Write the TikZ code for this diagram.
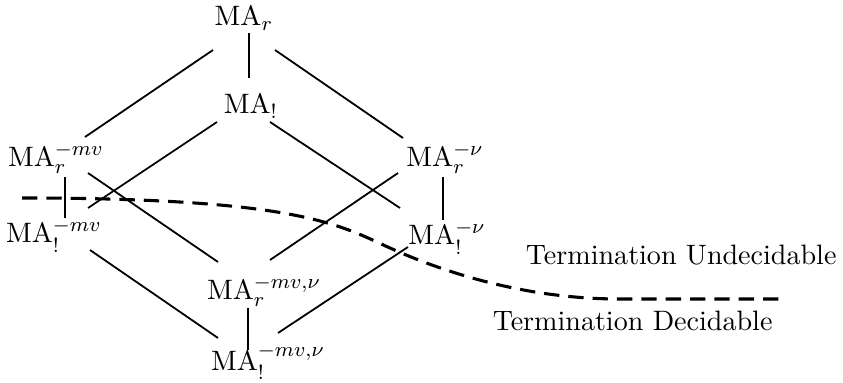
\documentclass[11pt,tikz,border=0pt]{standalone}
\usepackage{amsmath, amssymb}
\usepackage{tikz}
\usetikzlibrary{positioning, calc}
\newcommand{\MA}{\mathrm{MA}}

\begin{document}
\begin{tikzpicture}[x=0.39pt, y=-0.39pt,
        ma/.style={anchor=base, inner sep=2.5pt},
        ln/.style={line width=0.7pt},
        cut/.style={line width=1.2pt, dash pattern=on 6pt off 3.5pt},
        lbl/.style={anchor=base east, inner sep=0pt}]
        \useasboundingbox (0,0) rectangle (843,383);
        \node[ma] (r)     at (244,26)  {$\MA_r$};
        \node[ma] (e)     at (251,114) {$\MA_!$};
        \node[ma] (rmv)   at (56,167)  {$\MA_r^{-mv}$};
        \node[ma] (emv)   at (54,243)  {$\MA_!^{-mv}$};
        \node[ma] (rnu)   at (445,167) {$\MA_r^{-\nu}$};
        \node[ma] (enu)   at (447,245) {$\MA_!^{-\nu}$};
        \node[ma] (rmvnu) at (264,300) {$\MA_r^{-mv,\nu}$};
        \node[ma] (emvnu) at (268,370) {$\MA_!^{-mv,\nu}$};
        % top
        \draw[ln] ([shift={(5,7)}]r.base)     -- ([shift={(-2,-36)}]e.base);
        \draw[ln] ([shift={(-31,24)}]r.base)  -- ([shift={(29,-30)}]rmv.base);
        \draw[ln] ([shift={(31,24)}]r.base)   -- ([shift={(-42,-29)}]rnu.base);
        \draw[ln] ([shift={(-34,8)}]e.base)   -- ([shift={(34,-35)}]emv.base);
        \draw[ln] ([shift={(19,8)}]e.base)    -- ([shift={(-47,-37)}]enu.base);
        % sides
        \draw[ln] ([shift={(9,10)}]rmv.base)  -- ([shift={(11,-25)}]emv.base);
        \draw[ln] ([shift={(-2,10)}]rnu.base) -- ([shift={(-4,-25)}]enu.base);
        \draw[ln] ([shift={(32,6)}]rmv.base)  -- ([shift={(-46,-38)}]rmvnu.base);
        \draw[ln] ([shift={(-47,6)}]rnu.base) -- ([shift={(6,-40)}]rmvnu.base);
        \draw[ln] ([shift={(36,7)}]emv.base)  -- ([shift={(-50,-32)}]emvnu.base);
        \draw[ln] ([shift={(-39,2)}]enu.base) -- ([shift={(10,-37)}]emvnu.base);
        % bottom
        \draw[ln] ([shift={(-16,8)}]rmvnu.base) -- ([shift={(-20,-20)}]emvnu.base);
        % cut between the two regions
        \draw[cut] (22,198) .. controls (300,198) and (340,225.5) .. (390,248)
                            .. controls (450,275) and (530,299) .. (620,299) -- (787,299);
        \node[lbl] (undec) at (837,265) {Termination Undecidable};
        \node[lbl] (dec)   at (773,330) {Termination Decidable};
      \end{tikzpicture}
\end{document}
